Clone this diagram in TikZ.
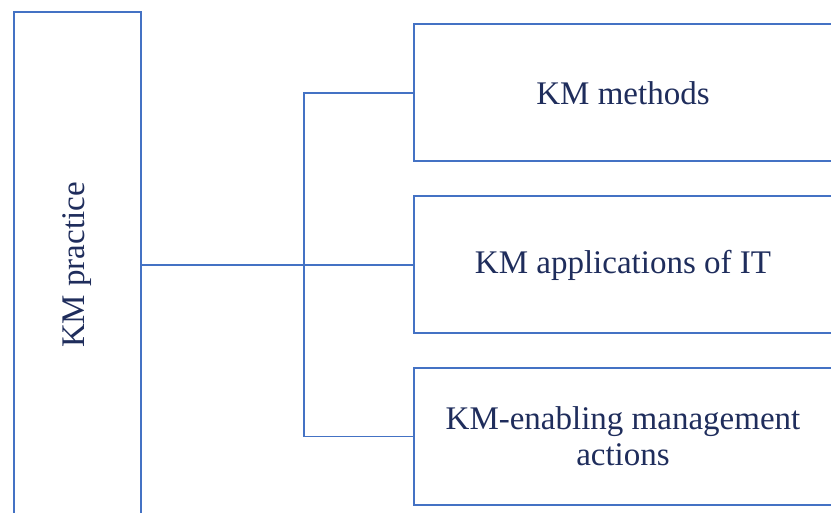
\documentclass[tikz,border=0pt]{standalone}
\usepackage{fontspec}
\setmainfont{Liberation Serif}
\usepackage{tikz}

\definecolor{kmline}{HTML}{4472C4}
\definecolor{kmtext}{HTML}{1F2D5C}
\tikzset{
    kmbox/.style={draw=kmline, line width=1pt, fill=white, text=kmtext,
        font=\fontsize{16.5}{18}\selectfont, align=center, inner sep=0pt},
    kmlink/.style={draw=kmline, line width=0.9pt}
}

\begin{document}
\begin{tikzpicture}[x=0.5pt,y=-0.5pt]
\useasboundingbox (0,0) rectangle (831,513);
\clip (0,0) rectangle (831,513);
% left box
\node[kmbox, minimum width=63.5pt, minimum height=253pt] (practice) at (77.5,265)
    {\rotatebox{90}{KM practice}};
% right boxes
\node[kmbox, minimum width=209pt, minimum height=68.5pt] (methods) at (623,93) {KM methods};
\node[kmbox, minimum width=209pt, minimum height=68.5pt] (applic) at (623,265) {KM applications of IT};
\node[kmbox, minimum width=209pt, minimum height=68.5pt] (enabling) at (623,436.5)
    {KM-enabling management\\actions};
% connectors
\coordinate (trunk) at (304,265);
\draw[kmlink] (practice.east) -- (applic.west);
\draw[kmlink] (methods.west) -| (trunk) |- (enabling.west);
\end{tikzpicture}
\end{document}
